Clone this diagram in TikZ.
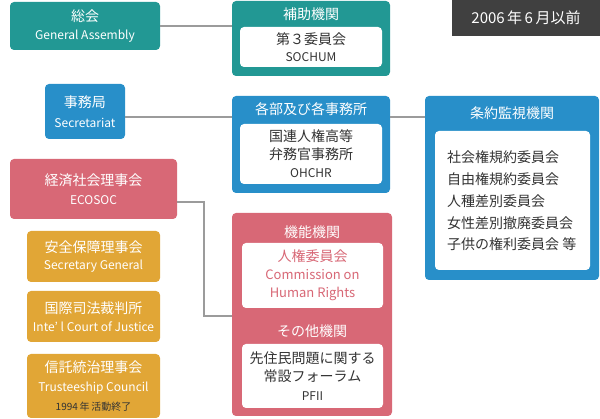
\documentclass[tikz,border=0pt]{standalone}
\usepackage{fontspec}
\setmainfont{Noto Sans CJK JP}
\usetikzlibrary{positioning, calc}
\definecolor{unteal}{RGB}{34,152,148}
\definecolor{unblue}{RGB}{40,143,201}
\definecolor{unpink}{RGB}{216,104,118}
\definecolor{ungold}{RGB}{225,166,54}
\definecolor{undark}{RGB}{64,64,64}
\definecolor{linegray}{RGB}{155,155,155}
\definecolor{txtgray}{RGB}{51,51,51}
\newcommand\fz[2]{\fontsize{#1}{#2}\selectfont}

\begin{document}
\begin{tikzpicture}[x=1pt, y=-1pt,
  box/.style={fill=#1, rounded corners=4pt, inner sep=0pt, text=white, align=center},
  panel/.style={fill=white, rounded corners=4pt, inner sep=0pt, align=center, text=txtgray},
  head/.style={text=white, font=\fz{14}{16}, inner sep=0pt},
  link/.style={draw=linegray, line width=2pt}]
  \useasboundingbox (0,0) rectangle (600,419);
  % left column
  \node[box=unteal, minimum width=150pt, minimum height=48pt, font=\fz{14}{18}] (ga) at (85,26) {総会\\{\fz{12}{18}General Assembly}};
  \node[box=unblue, minimum width=80pt, minimum height=55pt, font=\fz{14}{20}] (sec) at (85,111.5) {事務局\\{\fz{12}{20}Secretariat}};
  \node[box=unpink, minimum width=167pt, minimum height=60pt, font=\fz{14}{19}] (ecosoc) at (93.5,189) {経済社会理事会\\{\fz{12}{19}ECOSOC}};
  \node[box=ungold, minimum width=133pt, minimum height=51pt, font=\fz{14}{17}] (sc) at (93.5,256.5) {安全保障理事会\\{\fz{12}{17}Secretary General}};
  \node[box=ungold, minimum width=133pt, minimum height=51pt, font=\fz{14}{18}] (icj) at (93.5,316.5) {国際司法裁判所\\{\fz{12}{18}Inte’ l Court of Justice}};
  \node[box=ungold, minimum width=133pt, minimum height=64pt, font=\fz{14}{19}] (tc) at (93.5,386) {信託統治理事会\\{\fz{12}{18}Trusteeship Council}\\{\fz{10}{16}\color{txtgray}1994\,年\,活動終了}};
  % middle column
  \node[box=unteal, minimum width=158pt, minimum height=75pt] (sub) at (311,38.5) {};
  \node[head] (subt) at (311,14) {補助機関};
  \node[panel, minimum width=142pt, minimum height=40pt, font=\fz{14}{17}] (subp) at (311,47) {第３委員会\\{\fz{12}{17}SOCHUM}};
  \node[box=unblue, minimum width=158pt, minimum height=97pt] (dept) at (311,144.5) {};
  \node[head] (deptt) at (311,109) {各部及び各事務所};
  \node[panel, minimum width=142pt, minimum height=60pt, font=\fz{14}{18}] (deptp) at (311,154) {国連人権高等\\弁務官事務所\\{\fz{12}{18}OHCHR}};
  \node[box=unpink, minimum width=160pt, minimum height=203pt] (func) at (312,314.5) {};
  \node[head] (funct) at (312,232) {機能機関};
  \node[panel, text=unpink, minimum width=141pt, minimum height=65pt, font=\fz{14}{18}] (chr) at (312.5,275.5) {人権委員会\\{\fz{13}{18}Commission on}\\{\fz{13}{18}Human Rights}};
  \node[head] (othert) at (312,331) {その他機関};
  \node[panel, minimum width=141pt, minimum height=64pt, font=\fz{14}{18.5}] (pfii) at (312.5,376) {先住民問題に関する\\常設フォーラム\\{\fz{12}{18.5}PFII}};
  % right column
  \node[fill=undark, minimum width=148pt, minimum height=36pt, inner sep=0pt, text=white, font=\fz{15}{18}] (date) at (526,18) {2006\,年\,6\,月以前};
  \node[box=unblue, minimum width=174pt, minimum height=184pt] (treaty) at (512,188) {};
  \node[head] (treatyt) at (512,113) {条約監視機関};
  \node[panel, minimum width=155pt, minimum height=139pt] (treatyp) at (512.5,200.5) {};
  \node[anchor=west, align=left, inner sep=0pt, text=txtgray, font=\fz{14}{21.75}] (treatyl) at (447,201) {社会権規約委員会\\自由権規約委員会\\人種差別委員会\\女性差別撤廃委員会\\子供の権利委員会 等};
  % connectors
  \draw[link] (ga.east) -- (ga.east -| sub.west);
  \draw[link] ([yshift=-5.5pt]sec.east) -- ([yshift=-5.5pt]sec.east -| dept.west);
  \draw[link] ([yshift=-5.5pt]sec.east -| dept.east) -- ([yshift=-5.5pt]sec.east -| treaty.west);
  \draw[link] ([yshift=17pt]ecosoc.south east) -- ++(27,0) |- ([yshift=-1.5pt]func.west);
\end{tikzpicture}
\end{document}
